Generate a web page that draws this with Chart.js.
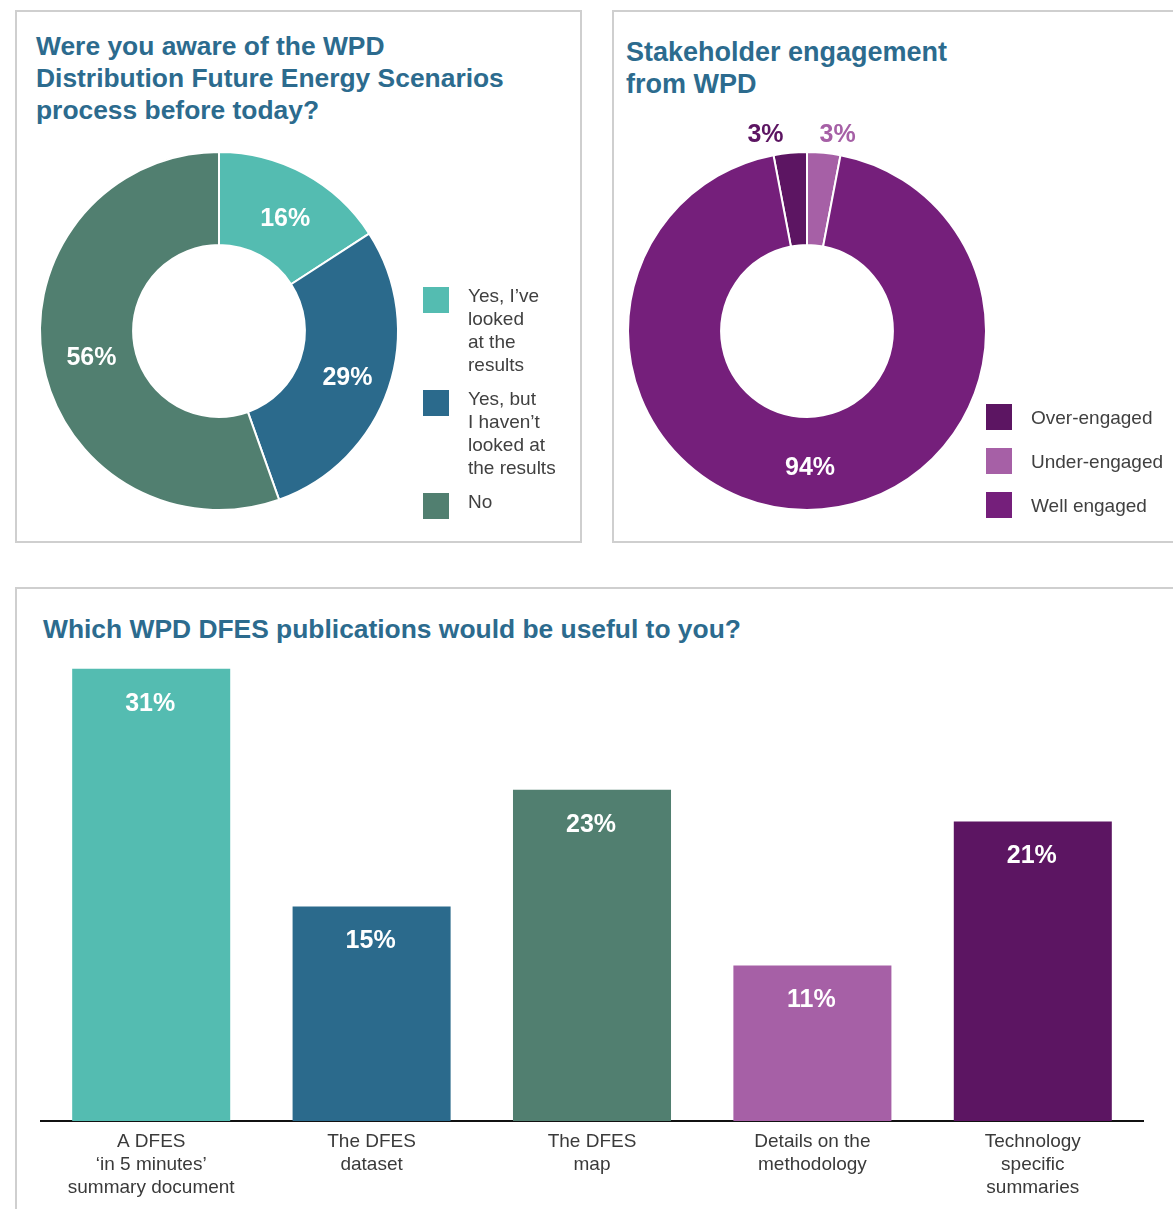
<!DOCTYPE html>
<html>
<head>
<meta charset="utf-8">
<script src="https://cdn.jsdelivr.net/npm/chart.js@4.4.0/dist/chart.umd.min.js"></script>
<style>
  body { margin: 0; background: #fff; font-family: "Liberation Sans", Arial, sans-serif; }
  #page { position: relative; width: 1173px; height: 1209px; overflow: hidden; }
  .panel { position: absolute; border: 2px solid #cfcfcf; box-sizing: border-box; }
  .title { position: absolute; margin: 0; color: #2c6b8e; font-weight: bold; font-size: 27px; line-height: 32px; }
  .legend { position: absolute; font-size: 19px; color: #404040; }
  .item { display: flex; align-items: flex-start; }
  .swatch { width: 26px; height: 26px; flex: none; }
  .text { margin-left: 19px; line-height: 23px; margin-top: -3px; }
  #engageLegend .text { margin-top: 2px; }
  canvas { position: absolute; }
</style>
</head>
<body>
<div id="page">
  <div class="panel" style="left:15px; top:10px; width:567px; height:533px;"></div>
  <div class="panel" style="left:612px; top:10px; width:600px; height:533px;"></div>
  <div class="panel" style="left:15px; top:587px; width:1200px; height:660px;"></div>

  <h1 class="title" style="left:36px; top:30px; font-size:26.4px;">Were you aware of the WPD<br>Distribution Future Energy Scenarios<br>process before today?</h1>
  <h1 class="title" style="left:626px; top:36px;">Stakeholder engagement<br>from WPD</h1>
  <h1 class="title" style="left:43px; top:613px; font-size:26.4px;">Which WPD DFES publications would be useful to you?</h1>

  <canvas id="awareChart" width="420" height="420" style="left:9px; top:121px;"></canvas>
  <div class="legend" id="awareLegend" style="left:423px; top:287px;"></div>

  <canvas id="engageChart" width="420" height="420" style="left:597px; top:121px;"></canvas>
  <div class="legend" id="engageLegend" style="left:986px; top:404px;"></div>

  <canvas id="pubChart" width="1173" height="559" style="left:0; top:650px;"></canvas>
</div>

<script>
// awareness of the DFES process
const awareLabels = [["Yes, I’ve", "looked", "at the", "results"], ["Yes, but", "I haven’t", "looked at", "the results"], ["No"]];
const awareValues = [16, 29, 56];
const awareColors = ["#54bcb1", "#2b6a8c", "#517f70"];

// stakeholder engagement
const engageLabels = ["Over-engaged", "Under-engaged", "Well engaged"];
const engageValues = [3, 3, 94];
const engageColors = ["#5c1562", "#a660a6", "#751f7b"];

// useful publications (bar heights, labels rounded)
const pubLabels = [["A DFES", "‘in 5 minutes’", "summary document"], ["The DFES", "dataset"], ["The DFES", "map"], ["Details on the", "methodology"], ["Technology", "specific", "summaries"]];
const pubValues = [31.4, 14.9, 23.0, 10.8, 20.8];
const pubColors = ["#54bcb1", "#2b6a8c", "#517f70", "#a660a6", "#5c1562"];

const FONT = '"Liberation Sans", Arial, sans-serif';

function buildLegend(id, labels, colors, gap) {
  const box = document.getElementById(id);
  labels.forEach((label, i) => {
    const lines = Array.isArray(label) ? label : [label];
    const item = document.createElement("div");
    item.className = "item";
    item.style.marginBottom = gap + "px";
    item.innerHTML = `<div class="swatch" style="background:${colors[i]}"></div><div class="text">${lines.join("<br>")}</div>`;
    box.appendChild(item);
  });
}

buildLegend("awareLegend", awareLabels, awareColors, 14);
buildLegend("engageLegend", engageLabels, engageColors, 18);

// percentage labels on the doughnut slices
const sliceLabels = {
  id: "sliceLabels",
  afterDatasetsDraw(chart) {
    const ctx = chart.ctx;
    const ds = chart.data.datasets[0];
    const meta = chart.getDatasetMeta(0);
    ctx.save();
    ctx.font = "bold 25px " + FONT;
    ctx.textAlign = "center";
    ctx.textBaseline = "middle";
    meta.data.forEach((arc, i) => {
      const p = arc.getProps(["x", "y", "startAngle", "endAngle", "innerRadius", "outerRadius"]);
      const mid = (p.startAngle + p.endAngle) / 2;
      const v = ds.data[i];
      if (v >= 10) {
        const r = (p.innerRadius + p.outerRadius) / 2;
        ctx.fillStyle = "#fff";
        ctx.fillText(v + "%", p.x + Math.cos(mid) * r + 3, p.y + Math.sin(mid) * r + 5);
      } else {
        const r = p.outerRadius + 18;
        const x = p.x + Math.cos(mid) * r;
        ctx.fillStyle = ds.backgroundColor[i];
        ctx.fillText(v + "%", x + (x < p.x ? -23 : 12), p.y + Math.sin(mid) * r);
      }
    });
    ctx.restore();
  }
};

function donut(id, labels, values, colors, rotation) {
  return new Chart(document.getElementById(id), {
    type: "doughnut",
    data: {
      labels: labels,
      datasets: [{
        data: values,
        backgroundColor: colors,
        borderColor: "#fff",
        borderWidth: 2
      }]
    },
    options: {
      responsive: false,
      animation: false,
      cutout: "48%",
      rotation: rotation,
      layout: { padding: 30 },
      plugins: { legend: { display: false }, tooltip: { enabled: false } }
    },
    plugins: [sliceLabels]
  });
}

donut("awareChart", awareLabels, awareValues, awareColors, 0);
donut("engageChart", engageLabels, engageValues, engageColors, -engageValues[0] / 100 * 360);

// value labels inside the bars
const barLabels = {
  id: "barLabels",
  afterDatasetsDraw(chart) {
    const ctx = chart.ctx;
    const ds = chart.data.datasets[0];
    ctx.save();
    ctx.font = "bold 25px " + FONT;
    ctx.fillStyle = "#fff";
    ctx.textAlign = "center";
    ctx.textBaseline = "middle";
    chart.getDatasetMeta(0).data.forEach((bar, i) => {
      ctx.fillText(Math.round(ds.data[i]) + "%", bar.x - 1, bar.y + 35);
    });
    ctx.restore();
  }
};

new Chart(document.getElementById("pubChart"), {
  type: "bar",
  data: {
    labels: pubLabels,
    datasets: [{
      data: pubValues,
      backgroundColor: pubColors,
      barPercentage: 0.717,
      categoryPercentage: 1
    }]
  },
  options: {
    responsive: false,
    animation: false,
    layout: { padding: { left: 41, right: 30, top: 0, bottom: 0 } },
    plugins: { legend: { display: false }, tooltip: { enabled: false } },
    scales: {
      x: {
        grid: { display: false, drawTicks: false },
        border: { color: "#111", width: 2 },
        ticks: {
          color: "#3a3a3a",
          font: { size: 19, family: FONT, lineHeight: 1.21 },
          padding: 9,
          maxRotation: 0,
          autoSkip: false
        },
        afterFit(scale) { scale.height = 88; }
      },
      y: { display: false, min: 0, max: 32.7 }
    }
  },
  plugins: [barLabels]
});
</script>
</body>
</html>
